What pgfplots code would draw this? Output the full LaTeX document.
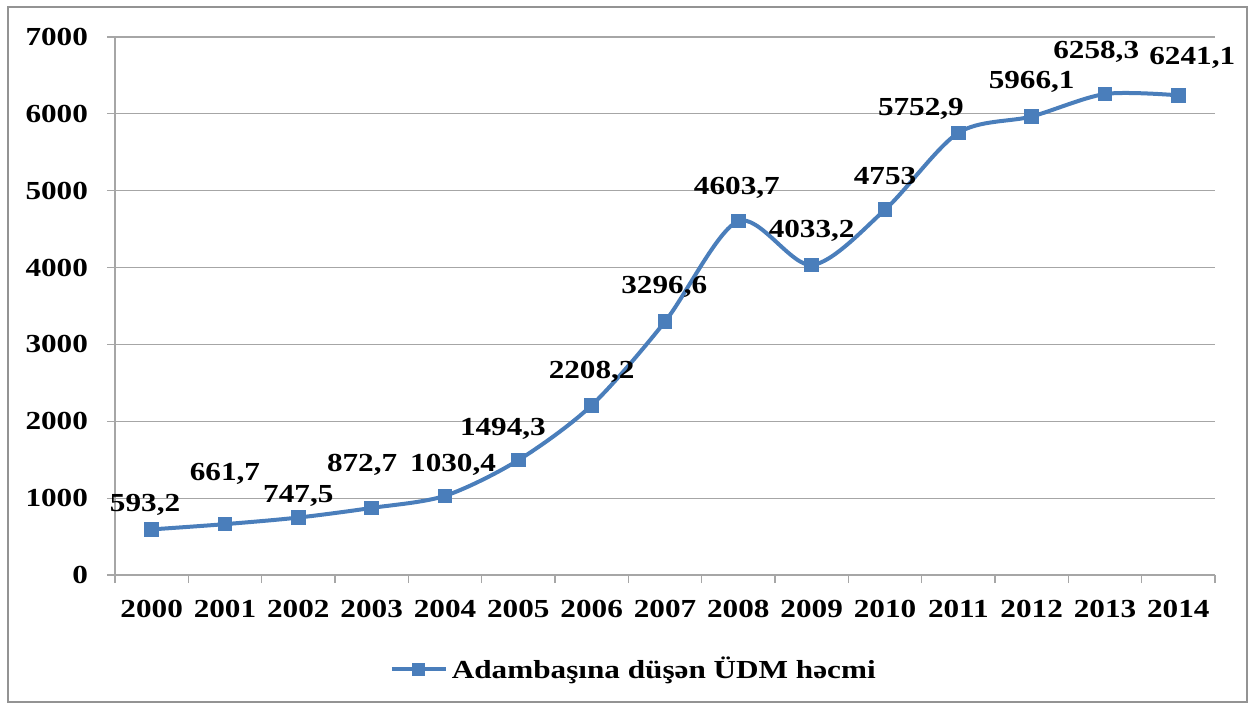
\documentclass[border=0pt]{standalone}
\usepackage{fontspec}
\setmainfont{Liberation Serif}[FakeStretch=1.2]
\usepackage{pgfplots}
\pgfplotsset{compat=1.18}
\definecolor{ser}{HTML}{4A7EBB}
\definecolor{gridc}{HTML}{A6A6A6}
\newcommand{\lblfont}{\fontsize{13}{15}\selectfont\bfseries}
\begin{document}
\begin{tikzpicture}
\useasboundingbox (-57.5pt,-66pt) rectangle (569pt,287.5pt);
\draw[color=gray!85, line width=1.3pt] (-53.5pt,-63.5pt) rectangle (566pt,284pt);
\begin{axis}[
  at={(0,0)}, anchor=south west,
  scale only axis, width=550pt, height=269pt,
  xmin=-0.5, xmax=14.5, ymin=0, ymax=7000,
  xtick={0,...,14},
  xticklabels={2000,2001,2002,2003,2004,2005,2006,2007,2008,2009,2010,2011,2012,2013,2014},
  minor xtick={-0.5,0.5,...,14.5},
  ytick={0,1000,...,7000},
  axis x line*=bottom, axis y line*=left,
  axis line style={gridc, line width=0.6pt},
  x axis line style={-}, y axis line style={-},
  ymajorgrids, major grid style={gridc, line width=0.6pt},
  major x tick style={draw=none},
  minor x tick style={gridc, line width=0.6pt},
  major y tick style={gridc, line width=0.6pt},
  tick align=outside, major tick length=4pt, minor tick length=4pt,
  xminorgrids=false,
  /pgf/number format/assume math mode=true,
  /pgf/number format/1000 sep={},
  tick label style={font=\lblfont},
  xticklabel style={yshift=-5pt},
  yticklabel style={xshift=-6pt},
  legend style={draw=none, at={(0.244,-0.175)}, anchor=west,
    font=\lblfont},
  legend image code/.code={
    \draw[ser, line width=2pt] (0cm,0cm) -- (0.95cm,0cm);
    \node[rectangle, fill=ser, minimum size=6.5pt, inner sep=0pt] at (0.475cm,0cm) {};
  },
  clip=false,
]
\addplot[ser, line width=2pt, smooth, tension=0.5, mark=square*, mark size=3.4pt,
  mark options={fill=ser, draw=ser, line width=0.5pt}]
  coordinates {
  (0,593.2) (1,661.7) (2,747.5) (3,872.7) (4,1030.4) (5,1494.3) (6,2208.2)
  (7,3296.6) (8,4603.7) (9,4033.2) (10,4753) (11,5752.9) (12,5966.1)
  (13,6258.3) (14,6241.1)};
\addlegendentry{Adambaşına düşən ÜDM həcmi}
\begin{scope}[every node/.style={font=\lblfont, inner sep=0pt}]
\node at (axis cs:-0.09,911) {593,2};
\node at (axis cs:1,1314) {661,7};
\node at (axis cs:2,1028) {747,5};
\node at (axis cs:2.87,1431) {872,7};
\node at (axis cs:4.11,1431) {1030,4};
\node at (axis cs:4.79,1900) {1494,3};
\node at (axis cs:6,2641) {2208,2};
\node at (axis cs:6.99,3747) {3296,6};
\node at (axis cs:7.98,5035) {4603,7};
\node at (axis cs:9,4476) {4033,2};
\node at (axis cs:10,5191) {4753};
\node at (axis cs:10.49,6063) {5752,9};
\node at (axis cs:12,6414) {5966,1};
\node at (axis cs:12.88,6805) {6258,3};
\node at (axis cs:14.19,6727) {6241,1};
\end{scope}
\end{axis}
\end{tikzpicture}
\end{document}
